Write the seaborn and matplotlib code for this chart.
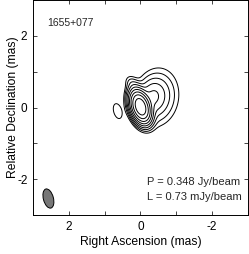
import numpy as np
import seaborn as sns
import matplotlib
matplotlib.use("Agg")
import matplotlib.pyplot as plt
from matplotlib.patches import Ellipse
from matplotlib.ticker import MultipleLocator, FuncFormatter

# source info
source_name = "1655+077"
peak_jy = 0.348          # Jy/beam
lowest_mjy = 0.73        # mJy/beam

# gaussian model components (mas, mJy/beam):
# core, broad jet halo, inner jet, NE shoulder, isolated blob to the east
comp_ra = [0.0, -0.45, -0.35, 0.2, 0.64]
comp_dec = [0.02, 0.28, 0.3, 0.6, -0.1]
comp_peak = [348.0, 4.5, 10.0, 2.5, 1.1]
comp_smaj = [0.21, 0.43, 0.24, 0.17, 0.23]
comp_smin = [0.12, 0.32, 0.19, 0.10, 0.12]
comp_pa = [72.0, 100.0, 100.0, 60.0, 75.0]   # deg from RA axis

# restoring beam
beam_ra, beam_dec = 2.57, -2.54
beam_major, beam_minor, beam_angle = 0.55, 0.28, 75.0

levels = lowest_mjy * 2.0 ** np.arange(0, 9)

sns.set_theme(style="ticks")
plt.rcParams["font.family"] = ["Liberation Sans", "DejaVu Sans"]

ra = np.linspace(-3, 3, 601)
dec = np.linspace(-3, 3, 601)
RA, DEC = np.meshgrid(ra, dec)
img = np.zeros_like(RA)
for x0, y0, p, sa, sb, pa in zip(comp_ra, comp_dec, comp_peak, comp_smaj, comp_smin, comp_pa):
    t = np.deg2rad(pa)
    dx, dy = RA - x0, DEC - y0
    u = dx * np.cos(t) + dy * np.sin(t)
    v = -dx * np.sin(t) + dy * np.cos(t)
    img += p * np.exp(-0.5 * ((u / sa) ** 2 + (v / sb) ** 2))

fig = plt.figure(figsize=(2.49, 2.54), dpi=100)
ax = fig.add_axes([0.1325, 0.1535, 0.8635, 0.8465])
ax.contour(RA, DEC, img, levels=levels, colors="black", linewidths=0.7)

ax.add_patch(Ellipse((beam_ra, beam_dec), beam_minor, beam_major, angle=beam_angle - 90,
                     facecolor="#777777", edgecolor="black", linewidth=0.7))

ax.set_xlim(3, -3)
ax.set_ylim(-3, 3)
for a in (ax.xaxis, ax.yaxis):
    a.set_major_locator(MultipleLocator(1))
    a.set_major_formatter(FuncFormatter(lambda v, p: "" if round(v) % 2 else f"{v:g}"))
ax.tick_params(direction="in", top=True, right=True, length=3, width=0.6,
               labelsize=8.5, labelcolor="black", pad=4)
for s in ax.spines.values():
    s.set_linewidth(0.7)
    s.set_color("black")

ax.set_xlabel("Right Ascension (mas)", fontsize=8.7, color="black", va="center")
ax.set_ylabel("Relative Declination (mas)", fontsize=8.7, color="black", va="center")
ax.xaxis.set_label_coords(0.5, -0.126)
ax.yaxis.set_label_coords(-0.093, 0.5)

ax.text(2.6, 2.35, source_name, fontsize=7.5, va="center", ha="left")
ax.text(-0.19, -2.09, f"P = {peak_jy} Jy/beam", fontsize=8, va="center", ha="left")
ax.text(-0.19, -2.50, f"L = {lowest_mjy} mJy/beam", fontsize=8, va="center", ha="left")

fig.savefig("out.png", dpi=100)
